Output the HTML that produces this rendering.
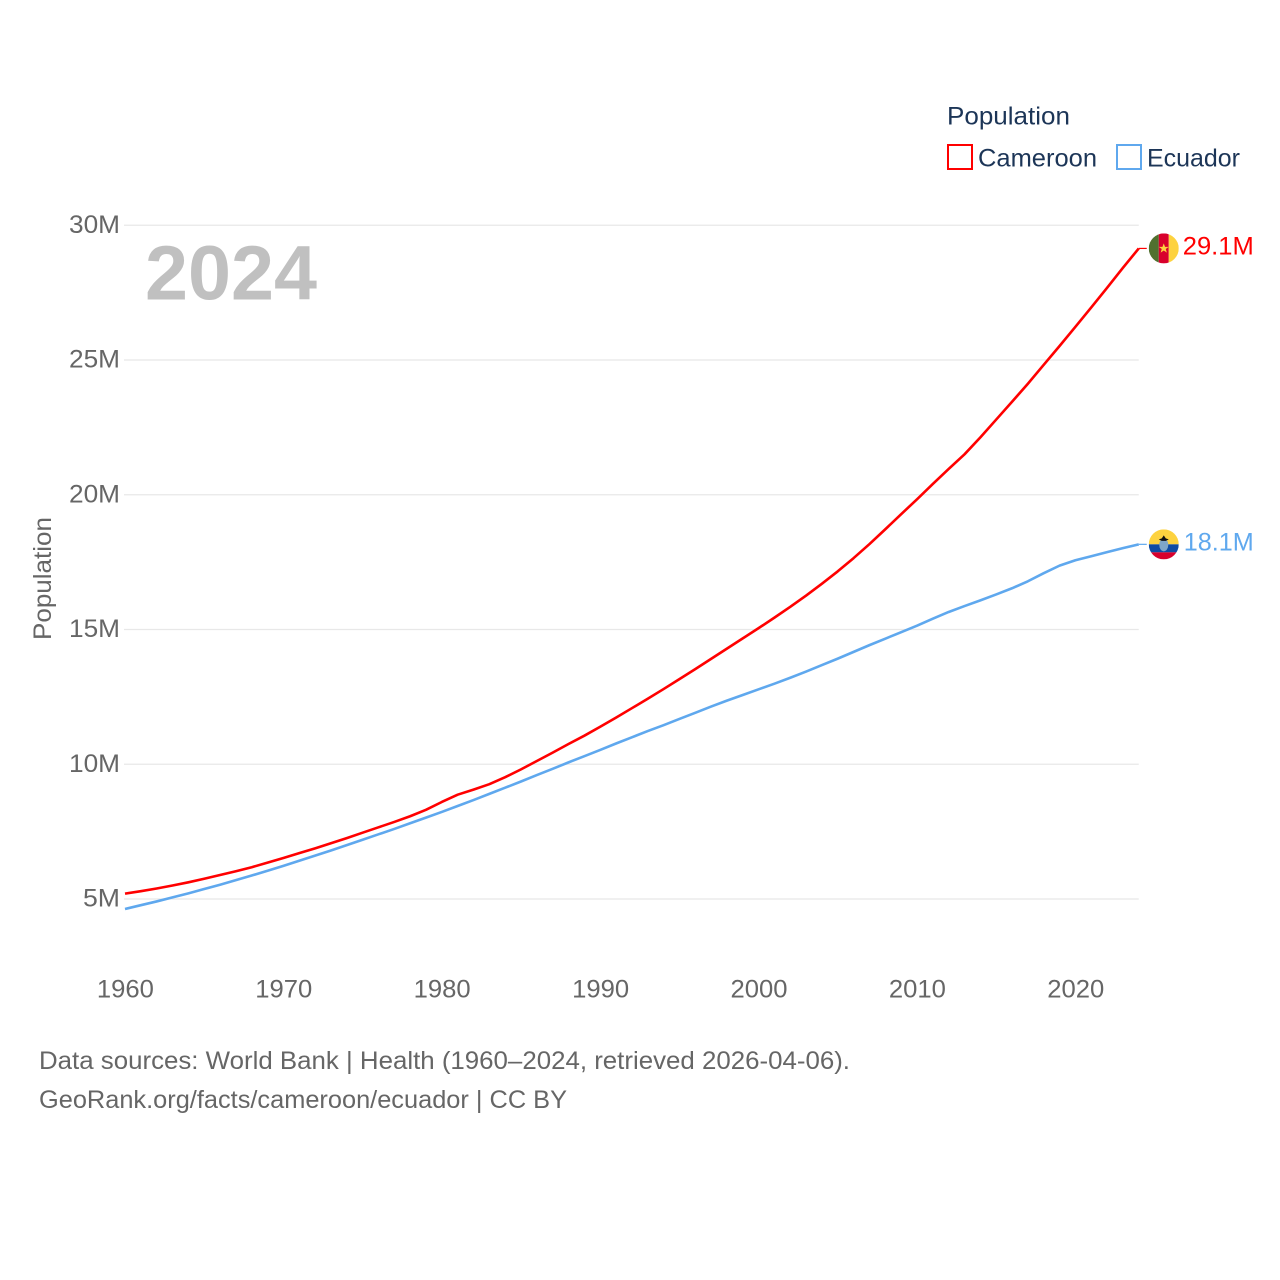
<!DOCTYPE html>
<html lang="en">
<head>
<meta charset="utf-8">
<title>Population: Cameroon and Ecuador</title>
<style>
html,body{margin:0;padding:0;background:#fff;}
svg{display:block;font-family:"Liberation Sans",sans-serif;}
</style>
</head>
<body>
<svg id="chart" width="1280" height="1280" viewBox="0 0 1280 1280" xmlns="http://www.w3.org/2000/svg">
  <rect x="0" y="0" width="1280" height="1280" fill="#ffffff"/>
  <g id="grid"></g>
  <g id="y-ticks"></g>
  <g id="x-ticks"></g>
  <text x="145" y="299.5" font-size="77" font-weight="700" fill="#c0c0c0" textLength="172" lengthAdjust="spacingAndGlyphs">2024</text>
  <text transform="translate(51,640) rotate(-90)" font-size="25" fill="#666666" textLength="123" lengthAdjust="spacingAndGlyphs">Population</text>
  <g id="series"></g>

  <g id="flag-cameroon">
    <clipPath id="clip-cm"><circle cx="0" cy="0" r="15"/></clipPath>
    <g clip-path="url(#clip-cm)">
      <rect x="-15" y="-15" width="10" height="30" fill="#50702f"/>
      <rect x="-5" y="-15" width="10" height="30" fill="#d8002c"/>
      <rect x="5" y="-15" width="10" height="30" fill="#fdd23f"/>
      <polygon points="0,-5 1.3,-1.6 5,-1.6 2,0.6 3.1,4.2 0,2.1 -3.1,4.2 -2,0.6 -5,-1.6 -1.3,-1.6" fill="#fdd23f"/>
    </g>
  </g>
  <g id="flag-ecuador">
    <clipPath id="clip-ec"><circle cx="0" cy="0" r="15"/></clipPath>
    <g clip-path="url(#clip-ec)">
      <rect x="-15" y="-15" width="30" height="15" fill="#fdd23f"/>
      <rect x="-15" y="0" width="30" height="8" fill="#0f4ba3"/>
      <rect x="-15" y="8" width="30" height="7" fill="#d8002c"/>
      <ellipse cx="0" cy="0.5" rx="4.5" ry="6.5" fill="#7ea6c8"/>
      <polygon points="-5,-5 -2,-6 0,-9 2,-6 5,-5 2,-3.5 -2,-3.5" fill="#111111"/>
    </g>
  </g>
  <g id="end-labels"></g>

  <g>
    <text x="947" y="124.5" font-size="25" fill="#1c3557" textLength="123" lengthAdjust="spacingAndGlyphs">Population</text>
    <g>
      <rect x="948" y="145" width="24" height="24" fill="#ffffff" stroke="#ff0000" stroke-width="2"/>
      <text x="978" y="166.5" font-size="25" fill="#1c3557" textLength="119" lengthAdjust="spacingAndGlyphs">Cameroon</text>
    </g>
    <g>
      <rect x="1117" y="145" width="24" height="24" fill="#ffffff" stroke="#5fa8ee" stroke-width="2"/>
      <text x="1147" y="166.5" font-size="25" fill="#1c3557" textLength="93" lengthAdjust="spacingAndGlyphs">Ecuador</text>
    </g>
  </g>

  <text x="39" y="1069" font-size="25" fill="#666666" textLength="811" lengthAdjust="spacingAndGlyphs">Data sources: World Bank | Health (1960–2024, retrieved 2026-04-06).</text>
  <text x="39" y="1108" font-size="25" fill="#666666" textLength="528" lengthAdjust="spacingAndGlyphs">GeoRank.org/facts/cameroon/ecuador | CC BY</text>
</svg>
<script>
var years = [1960,1961,1962,1963,1964,1965,1966,1967,1968,1969,1970,1971,1972,1973,1974,1975,1976,1977,1978,1979,1980,1981,1982,1983,1984,1985,1986,1987,1988,1989,1990,1991,1992,1993,1994,1995,1996,1997,1998,1999,2000,2001,2002,2003,2004,2005,2006,2007,2008,2009,2010,2011,2012,2013,2014,2015,2016,2017,2018,2019,2020,2021,2022,2023,2024];
var cameroonValues = [5.20,5.29,5.39,5.50,5.62,5.75,5.89,6.03,6.18,6.35,6.52,6.70,6.88,7.07,7.26,7.46,7.66,7.86,8.07,8.31,8.60,8.87,9.06,9.26,9.52,9.81,10.12,10.43,10.75,11.06,11.39,11.73,12.08,12.43,12.79,13.16,13.53,13.91,14.29,14.67,15.05,15.44,15.84,16.26,16.70,17.16,17.65,18.17,18.72,19.28,19.83,20.40,20.96,21.50,22.13,22.79,23.45,24.12,24.82,25.52,26.23,26.95,27.68,28.42,29.14];
var ecuadorValues = [4.63,4.77,4.91,5.06,5.21,5.37,5.53,5.70,5.87,6.05,6.23,6.42,6.61,6.80,7.00,7.20,7.40,7.60,7.81,8.02,8.23,8.45,8.67,8.90,9.13,9.36,9.60,9.83,10.07,10.30,10.53,10.77,11.00,11.23,11.45,11.68,11.91,12.14,12.36,12.57,12.78,12.99,13.21,13.44,13.68,13.92,14.17,14.42,14.66,14.90,15.14,15.40,15.65,15.87,16.08,16.30,16.53,16.79,17.09,17.37,17.57,17.72,17.87,18.02,18.16];
var yTickValues = [5,10,15,20,25,30];
var yTickLabels = ['5M','10M','15M','20M','25M','30M'];
var xTickValues = [1960,1970,1980,1990,2000,2010,2020];
var xTickLabels = ['1960','1970','1980','1990','2000','2010','2020'];
var endLabels = ['29.1M','18.1M'];

function xScale(year){ return 125 + (year - 1960) * 15.84; }
function yScale(value){ return 899 - (value - 5) * 26.95; }

var NS = 'http://www.w3.org/2000/svg';
function make(tag, attrs, parent){
  var el = document.createElementNS(NS, tag);
  for (var k in attrs) el.setAttribute(k, attrs[k]);
  parent.appendChild(el);
  return el;
}
function linePath(values){
  var d = '';
  for (var i = 0; i < values.length; i++){
    d += (i ? 'L' : 'M') + xScale(years[i]).toFixed(2) + ' ' + yScale(values[i]).toFixed(2);
  }
  return d;
}

var gridGroup = document.getElementById('grid');
var yGroup = document.getElementById('y-ticks');
yTickValues.forEach(function(v, i){
  var y = yScale(v);
  var line = make('line', {x1:124, x2:xScale(years[years.length-1]), y1:y, y2:y, stroke:'#e8e8e8', 'stroke-width':1.3}, gridGroup);
  
  
  var label = yTickLabels[i];
  var t = make('text', {x:120, y:y+7.5, 'text-anchor':'end', 'font-size':25, fill:'#666666', textLength:label.length === 2 ? 37 : 51, lengthAdjust:'spacingAndGlyphs'}, yGroup);
  t.textContent = label;
  
  
});

var xGroup = document.getElementById('x-ticks');
xTickValues.forEach(function(v, i){
  var t = make('text', {x:xScale(v)+0.4, y:997.5, 'text-anchor':'middle', 'font-size':25, fill:'#666666', textLength:57, lengthAdjust:'spacingAndGlyphs'}, xGroup);
  t.textContent = xTickLabels[i];
  
  
});

var seriesGroup = document.getElementById('series');
var redLine = make('path', {d:linePath(cameroonValues), fill:'none', stroke:'#ff0000', 'stroke-width':2.6, 'stroke-linejoin':'round'}, seriesGroup);


var blueLine = make('path', {d:linePath(ecuadorValues), fill:'none', stroke:'#5fa8ee', 'stroke-width':2.6, 'stroke-linejoin':'round'}, seriesGroup);



var lastX = xScale(years[years.length-1]);
var redEnd = yScale(cameroonValues[cameroonValues.length-1]);
var blueEnd = yScale(ecuadorValues[ecuadorValues.length-1]);

var redStub = make('line', {x1:lastX, x2:lastX+8, y1:redEnd, y2:redEnd, stroke:'#ff0000', 'stroke-width':1.2}, seriesGroup);


var blueStub = make('line', {x1:lastX, x2:lastX+8, y1:blueEnd, y2:blueEnd, stroke:'#5fa8ee', 'stroke-width':1.2}, seriesGroup);



document.getElementById('flag-cameroon').setAttribute('transform', 'translate(' + (lastX+25) + ',' + redEnd + ')');
document.getElementById('flag-ecuador').setAttribute('transform', 'translate(' + (lastX+25) + ',' + blueEnd + ')');

var labelGroup = document.getElementById('end-labels');
var redLabel = make('text', {x:lastX+44, y:redEnd+6, 'font-size':25, fill:'#ff0000', textLength:71, lengthAdjust:'spacingAndGlyphs'}, labelGroup);
redLabel.textContent = endLabels[0];


var blueLabel = make('text', {x:lastX+45, y:blueEnd+6, 'font-size':25, fill:'#5fa8ee', textLength:70, lengthAdjust:'spacingAndGlyphs'}, labelGroup);
blueLabel.textContent = endLabels[1];


</script>
</body>
</html>
